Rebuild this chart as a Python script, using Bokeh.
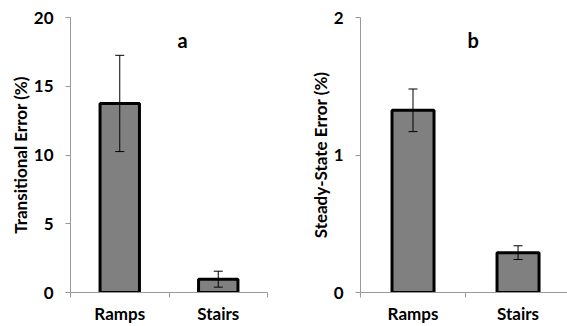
from bokeh.plotting import figure
from bokeh.layouts import row
from bokeh.models import ColumnDataSource, Range1d, FixedTicker, Whisker, TeeHead, Label
from bokeh.embed import file_html
from bokeh.resources import INLINE

categories = ["Ramps", "Stairs"]

transitional_mean = [13.75, 0.97]
transitional_err = [3.5, 0.58]

steady_mean = [1.325, 0.29]
steady_err = [0.155, 0.05]

left_ticks = [0, 5, 10, 15, 20]
right_ticks = [0, 1, 2]

FONT = "Lato"
AXIS_COLOR = "#999999"


def make_panel(means, errs, yticks, ymax, ylabel, letter, width, border_left,
               border_right, x_end, letter_x, letter_y, label_standoff):
    xs = [i + 0.5 for i in range(len(categories))]
    src = ColumnDataSource(dict(
        x=xs,
        top=means,
        upper=[m + e for m, e in zip(means, errs)],
        lower=[m - e for m, e in zip(means, errs)],
    ))
    p = figure(width=width, height=326, output_backend="svg", toolbar_location=None,
               x_range=Range1d(0, x_end), y_range=Range1d(0, ymax),
               min_border_left=border_left, min_border_right=border_right,
               min_border_top=17, min_border_bottom=34)
    p.outline_line_color = None
    p.xgrid.visible = False
    p.ygrid.visible = False
    p.background_fill_color = "white"
    p.border_fill_color = "white"

    p.vbar(x="x", top="top", bottom=0, width=0.4, source=src,
           fill_color="#808080", line_color="black", line_width=3)
    w = Whisker(base="x", upper="upper", lower="lower", source=src, level="annotation",
                line_color="black", line_width=1,
                upper_head=TeeHead(size=9, line_color="black", line_width=1),
                lower_head=TeeHead(size=9, line_color="black", line_width=1))
    p.add_layout(w)

    # x axis: boundary ticks drawn as minor ticks, labels at category centres
    xa = p.xaxis[0]
    xa.ticker = FixedTicker(ticks=xs, minor_ticks=list(range(len(categories) + 1)))
    xa.major_label_overrides = {x: c for x, c in zip(xs, categories)}
    xa.major_tick_out = 0
    xa.major_tick_in = 0
    xa.minor_tick_out = 5
    xa.minor_tick_in = 0
    xa.minor_tick_line_color = AXIS_COLOR
    xa.axis_line_color = AXIS_COLOR
    xa.major_label_standoff = 5
    xa.major_label_text_font = FONT
    xa.major_label_text_font_style = "bold"
    xa.major_label_text_font_size = "17px"
    xa.major_label_text_color = "black"

    ya = p.yaxis[0]
    ya.ticker = FixedTicker(ticks=yticks, minor_ticks=[])
    ya.major_tick_out = 5
    ya.major_tick_in = 0
    ya.major_tick_line_color = AXIS_COLOR
    ya.axis_line_color = AXIS_COLOR
    ya.major_label_standoff = 12
    ya.major_label_text_font = FONT
    ya.major_label_text_font_style = "bold"
    ya.major_label_text_font_size = "17px"
    ya.major_label_text_color = "black"
    ya.axis_label = ylabel
    ya.axis_label_standoff = label_standoff
    ya.axis_label_text_font = FONT
    ya.axis_label_text_font_style = "bold"
    ya.axis_label_text_font_size = "17px"
    ya.axis_label_text_color = "black"

    p.add_layout(Label(x=letter_x, y=letter_y, text=letter, text_align="center",
                       text_baseline="alphabetic", text_font=FONT,
                       text_font_style="bold", text_font_size="20px",
                       text_color="black"))
    return p


p1 = make_panel(transitional_mean, transitional_err, left_ticks, 20,
                "Transitional Error (%)", "a", 280, 70, 13, 2, 1.137, 18.4, 0)
p2 = make_panel(steady_mean, steady_err, right_ticks, 2,
                "Steady-State Error (%)", "b", 287, 80, 0, 1.971, 1.073, 1.84, 0)

layout = row(p1, p2, spacing=0)
open("out.html", "w").write(file_html(layout, INLINE))
